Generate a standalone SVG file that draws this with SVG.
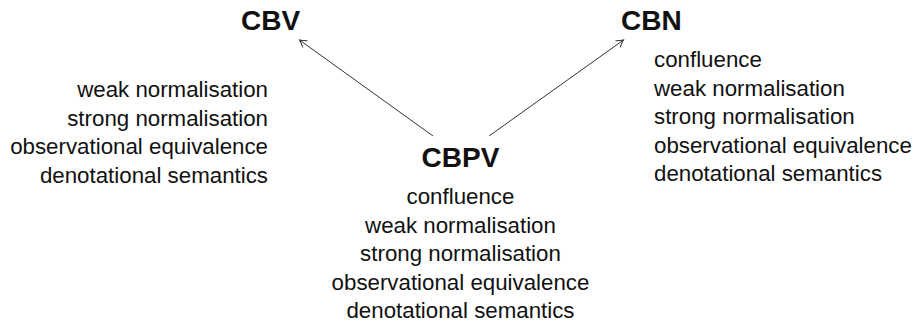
<svg xmlns="http://www.w3.org/2000/svg" width="917" height="322" viewBox="0 0 917 322">
<style>
text{font-family:"Liberation Sans",Arial,sans-serif;fill:#111}
.t{font-size:28px;font-weight:bold}
.p{font-size:22.3px}
.c{stroke:#333;stroke-width:1;fill:none}
</style>
<defs>
<marker id="ah" viewBox="-8 -5 10 10" refX="0" refY="0" markerWidth="10" markerHeight="10" markerUnits="userSpaceOnUse" orient="auto">
<path d="M -7 -4 Q -2.5 -1 0 0 Q -2.5 1 -7 4" fill="none" stroke="#333" stroke-width="1"/>
</marker>
</defs>
<rect width="917" height="322" fill="#fff"/>
<g id="connectors">
<line class="c" x1="433" y1="136" x2="299.5" y2="40" marker-end="url(#ah)"/>
<line class="c" x1="489" y1="136" x2="623.5" y2="40" marker-end="url(#ah)"/>
</g>
<g id="cbv">
<text class="t" x="270.5" y="30" text-anchor="middle">CBV</text>
<text class="p" x="268" y="97" text-anchor="end">weak normalisation</text>
<text class="p" x="268" y="125.5" text-anchor="end">strong normalisation</text>
<text class="p" x="268" y="154" text-anchor="end">observational equivalence</text>
<text class="p" x="268" y="182.5" text-anchor="end">denotational semantics</text>
</g>
<g id="cbn">
<text class="t" x="621" y="30">CBN</text>
<text class="p" x="654" y="67">confluence</text>
<text class="p" x="654" y="95.5">weak normalisation</text>
<text class="p" x="654" y="124">strong normalisation</text>
<text class="p" x="654" y="152.5">observational equivalence</text>
<text class="p" x="654" y="181">denotational semantics</text>
</g>
<g id="cbpv">
<text class="t" x="460.5" y="167" text-anchor="middle">CBPV</text>
<text class="p" x="460.5" y="204" text-anchor="middle">confluence</text>
<text class="p" x="460.5" y="232.5" text-anchor="middle">weak normalisation</text>
<text class="p" x="460.5" y="261" text-anchor="middle">strong normalisation</text>
<text class="p" x="460.5" y="289.5" text-anchor="middle">observational equivalence</text>
<text class="p" x="460.5" y="318" text-anchor="middle">denotational semantics</text>
</g>
</svg>
